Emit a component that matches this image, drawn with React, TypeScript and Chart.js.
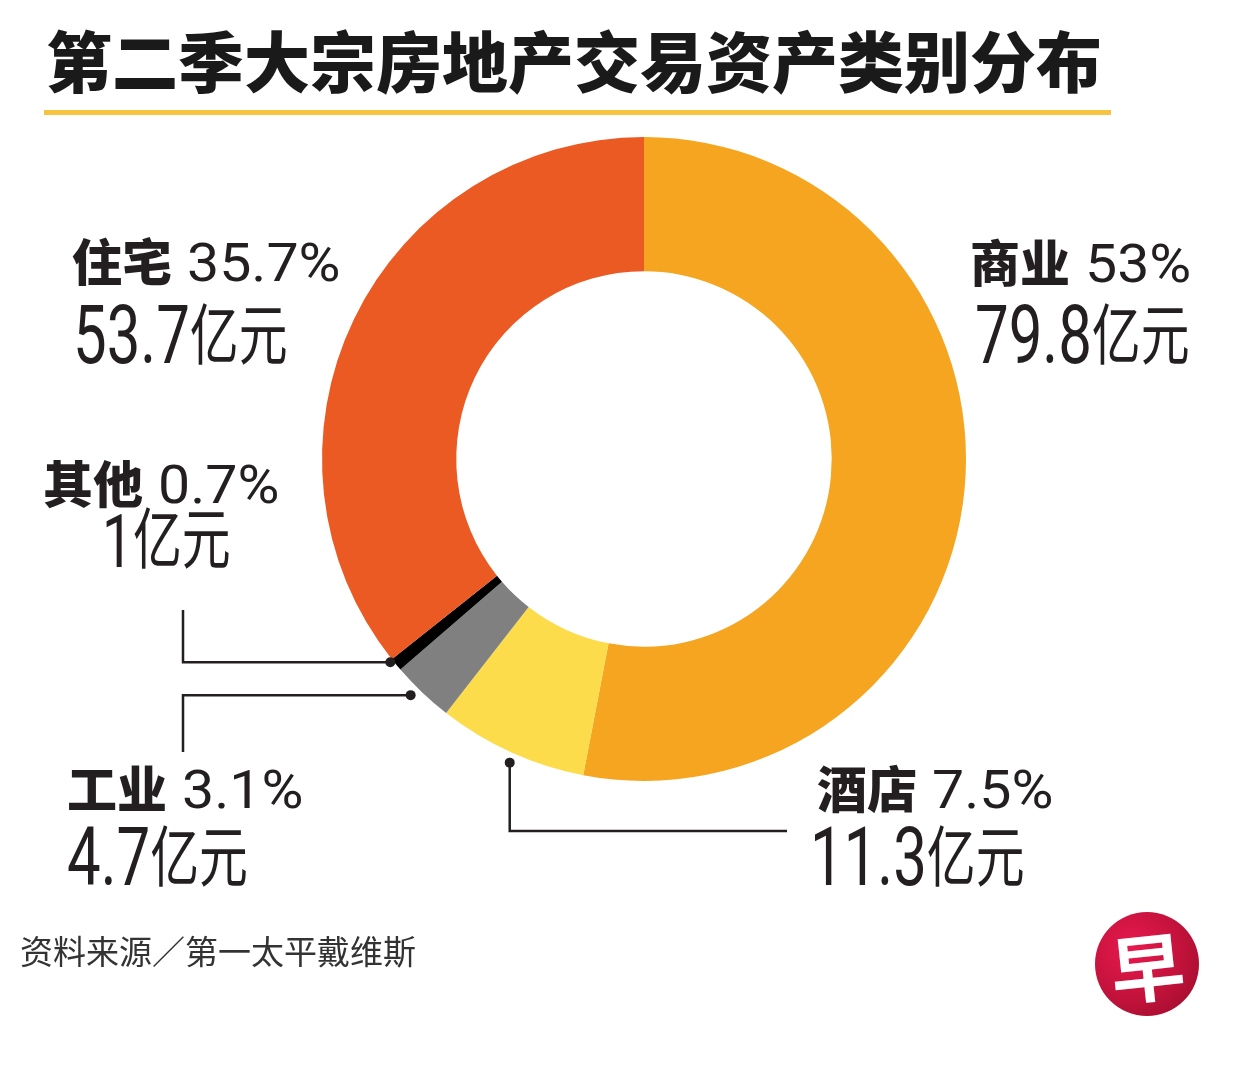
import React, { useEffect, useRef } from 'react';
import { Chart, registerables } from 'chart.js';

Chart.register(...registerables);

// ---- data ----
const TITLE = '第二季大宗房地产交易资产类别分布';
const SOURCE = '资料来源／第一太平戴维斯';
const CATEGORIES = ['商业', '酒店', '工业', '其他', '住宅'];
const AMOUNTS = [79.8, 11.3, 4.7, 1, 53.7];
const PERCENT_LABELS = ['53%', '7.5%', '3.1%', '0.7%', '35.7%'];
const AMOUNT_UNIT = '亿元';
const COLORS = ['#F5A51F', '#FDDC4B', '#808080', '#000000', '#EC5A24'];

// ---- layout ----
const LABEL_LAYOUT = [
  { x1: 970, b1: 279, x2: 975, b2: 363, s2: 1 },
  { x1: 817, b1: 805, x2: 810, b2: 885, s2: 1 },
  { x1: 67, b1: 805, x2: 67, b2: 885, s2: 1 },
  { x1: 43, b1: 500, x2: 102, b2: 568, s2: 0.92 },
  { x1: 72, b1: 278, x2: 73, b2: 363, s2: 1 },
];

const LEADERS = [
  { index: 3, t: 0.9, gap: 3, kind: 'h', toX: 183, toY: 610 },
  { index: 2, t: 0.6, gap: 10, kind: 'h', toX: 183, toY: 752 },
  { index: 1, t: 0.48, gap: 10, kind: 'v', toX: 787, toY: 831 },
];

const CJK = '"Noto Sans CJK SC", sans-serif';
const NUM = 'Roboto, "Liberation Sans", sans-serif';

const NAME_SIZE = 50;
const PCT_SIZE = 53;
const AMT_SIZE = 81;
const UNIT_SIZE = 66;

const leaderPlugin = {
  id: 'leaders',
  afterDatasetsDraw(chart: any) {
    const arcs = chart.getDatasetMeta(0).data as any[];
    const ctx = chart.ctx as CanvasRenderingContext2D;
    ctx.save();
    ctx.strokeStyle = '#231f20';
    ctx.fillStyle = '#231f20';
    ctx.lineWidth = 2.5;
    LEADERS.forEach((l) => {
      const a = arcs[l.index];
      const p = a.getProps(['x', 'y', 'startAngle', 'endAngle', 'outerRadius'], true);
      const ang = p.startAngle + (p.endAngle - p.startAngle) * l.t;
      const r = p.outerRadius + l.gap;
      const px = p.x + r * Math.cos(ang);
      const py = p.y + r * Math.sin(ang);
      ctx.beginPath();
      ctx.moveTo(px, py);
      if (l.kind === 'h') {
        ctx.lineTo(l.toX, py);
        ctx.lineTo(l.toX, l.toY);
      } else {
        ctx.lineTo(px, l.toY);
        ctx.lineTo(l.toX, l.toY);
      }
      ctx.stroke();
      ctx.beginPath();
      ctx.arc(px, py, 5, 0, Math.PI * 2);
      ctx.fill();
    });
    ctx.restore();
  },
};

function fmtAmount(v: number) {
  return String(v);
}

export default function App() {
  const ref = useRef<HTMLCanvasElement>(null);

  useEffect(() => {
    document.body.style.margin = '0';
    const chart = new Chart(ref.current as HTMLCanvasElement, {
      type: 'doughnut',
      data: {
        labels: CATEGORIES,
        datasets: [
          {
            data: AMOUNTS,
            backgroundColor: COLORS,
            borderWidth: 0,
          },
        ],
      },
      options: {
        responsive: false,
        animation: false,
        cutout: '58.3%',
        layout: { padding: { left: 322, right: 285, top: 136, bottom: 285 } },
        plugins: {
          legend: { display: false },
          tooltip: { enabled: false },
        },
      },
      plugins: [leaderPlugin],
    } as any);
    return () => chart.destroy();
  }, []);

  return (
    <div
      style={{
        position: 'absolute',
        left: 0,
        top: 0,
        width: 1251,
        height: 1067,
        background: '#ffffff',
        overflow: 'hidden',
      }}
    >
      <canvas
        ref={ref}
        width={1251}
        height={1067}
        style={{ position: 'absolute', left: 0, top: 0, width: 1251, height: 1067 }}
      />

      <div
        style={{
          position: 'absolute',
          left: 46,
          top: 25,
          fontFamily: CJK,
          fontWeight: 900,
          fontSize: 66,
          lineHeight: 1,
          color: '#1a1a1a',
          whiteSpace: 'nowrap',
        }}
      >
        {TITLE}
      </div>
      <div
        style={{
          position: 'absolute',
          left: 44,
          top: 110,
          width: 1067,
          height: 5,
          background: '#F6C343',
        }}
      />

      {CATEGORIES.map((c, i) => {
        const L = LABEL_LAYOUT[i];
        const amt = AMT_SIZE * L.s2;
        return (
          <React.Fragment key={c}>
            <div
              style={{
                position: 'absolute',
                left: L.x1,
                top: L.b1 - 0.88 * NAME_SIZE,
                display: 'flex',
                alignItems: 'baseline',
                whiteSpace: 'nowrap',
                color: '#231f20',
              }}
            >
              <span
                style={{ fontFamily: CJK, fontWeight: 900, fontSize: NAME_SIZE, lineHeight: 1 }}
              >
                {c}
              </span>
              <span
                style={{
                  fontFamily: NUM,
                  fontWeight: 400,
                  fontSize: PCT_SIZE,
                  lineHeight: 1,
                  marginLeft: 15,
                  display: 'inline-block',
                  transform: 'scaleX(1.08)',
                  transformOrigin: 'left',
                }}
              >
                {PERCENT_LABELS[i]}
              </span>
            </div>
            <div
              style={{
                position: 'absolute',
                left: L.x2,
                top: L.b2 - 0.842 * amt,
                display: 'flex',
                alignItems: 'baseline',
                whiteSpace: 'nowrap',
                color: '#231f20',
                transform: 'scaleX(0.74)',
                transformOrigin: 'left',
              }}
            >
              <span style={{ fontFamily: NUM, fontWeight: 400, fontSize: amt, lineHeight: 1 }}>
                {fmtAmount(AMOUNTS[i])}
              </span>
              <span
                style={{
                  fontFamily: CJK,
                  fontWeight: 400,
                  fontSize: UNIT_SIZE,
                  lineHeight: 1,
                  position: 'relative',
                  top: -4,
                }}
              >
                {AMOUNT_UNIT}
              </span>
            </div>
          </React.Fragment>
        );
      })}

      <div
        style={{
          position: 'absolute',
          left: 20,
          top: 934,
          fontFamily: CJK,
          fontWeight: 400,
          fontSize: 33,
          lineHeight: 1,
          color: '#333333',
          whiteSpace: 'nowrap',
        }}
      >
        {SOURCE}
      </div>

      <div
        style={{
          position: 'absolute',
          left: 1095,
          top: 912,
          width: 104,
          height: 104,
          borderRadius: '50%',
          background: 'radial-gradient(circle at 35% 35%, #E8194F 0%, #C0123A 55%, #950B28 100%)',
          display: 'flex',
          alignItems: 'center',
          justifyContent: 'center',
          color: '#ffffff',
          fontFamily: CJK,
          fontWeight: 700,
          fontSize: 74,
          lineHeight: 1,
        }}
      >
        <span style={{ transform: 'rotate(-6deg)', display: 'inline-block' }}>早</span>
      </div>
    </div>
  );
}
